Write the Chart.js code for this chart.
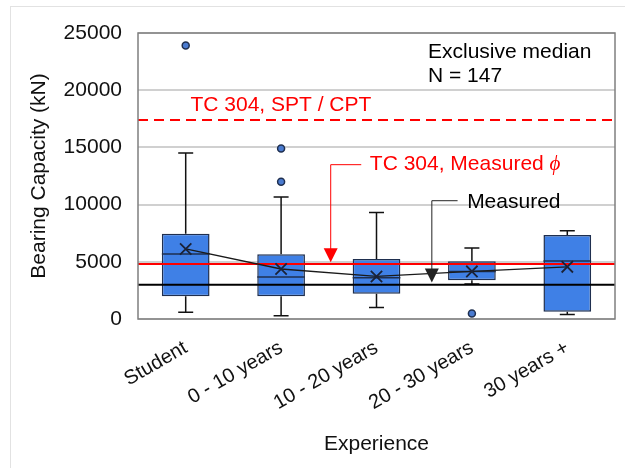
<!DOCTYPE html>
<html>
<head>
<meta charset="utf-8">
<script src="https://cdn.jsdelivr.net/npm/chart.js@4/dist/chart.umd.min.js"></script>
<style>
  html, body { margin: 0; padding: 0; background: #fff; }
  #wrap { position: relative; width: 625px; height: 468px; }
  #frame { position: absolute; left: 10px; top: 6px; right: 0; bottom: 0;
           border-left: 1px solid #e2e2e2; border-top: 1px solid #e2e2e2; }
  canvas { position: absolute; left: 0; top: 0; }
</style>
</head>
<body>
<div id="wrap">
  <div id="frame"></div>
  <canvas id="chart" width="625" height="468"></canvas>
</div>
<script>
// data (kN)
var categories = ["Student", "0 - 10 years", "10 - 20 years", "20 - 30 years", "30 years +"];
var whiskerLow  = [580, 290, 1000, 3050, 400];
var q1          = [1980, 1980, 2200, 3380, 640];
var median      = [5680, 3670, 3600, 4160, 5080];
var q3          = [7460, 5650, 5240, 5050, 7350];
var whiskerHigh = [14500, 10660, 9320, 6200, 7720];
var means       = [6120, 4370, 3720, 4160, 4560];
var outlierCat  = [0, 1, 1, 3];
var outlierVal  = [23900, 14900, 12000, 480];

// design values
var sptCpt = 17400;
var measuredPhi = 4800;
var measured = 3000;

var yTicks = [0, 5000, 10000, 15000, 20000, 25000];

var boxes = categories.map(function (c, i) { return [q1[i], q3[i]]; });
var outliers = outlierCat.map(function (c, i) { return { x: categories[c], y: outlierVal[i] }; });

var FONT = "'Liberation Sans', Arial, sans-serif";

// whiskers, medians, reference lines, notes
var boxPlugin = {
  id: 'boxExtras',
  beforeDatasetsDraw: function (chart) {
    var ctx = chart.ctx, x = chart.scales.x, y = chart.scales.y;
    ctx.save();
    ctx.strokeStyle = '#111';
    ctx.lineWidth = 1.5;
    categories.forEach(function (c, i) {
      var cx = x.getPixelForValue(i);
      ctx.beginPath();
      ctx.moveTo(cx, y.getPixelForValue(whiskerHigh[i]));
      ctx.lineTo(cx, y.getPixelForValue(q3[i]));
      ctx.moveTo(cx, y.getPixelForValue(whiskerLow[i]));
      ctx.lineTo(cx, y.getPixelForValue(q1[i]));
      ctx.moveTo(cx - 7.5, y.getPixelForValue(whiskerHigh[i]));
      ctx.lineTo(cx + 7.5, y.getPixelForValue(whiskerHigh[i]));
      ctx.moveTo(cx - 7.5, y.getPixelForValue(whiskerLow[i]));
      ctx.lineTo(cx + 7.5, y.getPixelForValue(whiskerLow[i]));
      ctx.stroke();
    });
    ctx.restore();
  },
  afterDatasetDraw: function (chart, args) {
    if (args.index !== 0) return;
    var ctx = chart.ctx, x = chart.scales.x, y = chart.scales.y, a = chart.chartArea;
    var meta = chart.getDatasetMeta(0);
    ctx.save();
    // medians
    ctx.strokeStyle = '#1f2f4f';
    ctx.lineWidth = 1.5;
    meta.data.forEach(function (bar, i) {
      var py = y.getPixelForValue(median[i]);
      ctx.beginPath();
      ctx.moveTo(bar.x - bar.width / 2, py);
      ctx.lineTo(bar.x + bar.width / 2, py);
      ctx.stroke();
    });
    // reference lines
    ctx.lineWidth = 2;
    ctx.strokeStyle = '#ff0000';
    ctx.setLineDash([10, 6]);
    ctx.beginPath();
    ctx.moveTo(a.left, y.getPixelForValue(sptCpt));
    ctx.lineTo(a.right, y.getPixelForValue(sptCpt));
    ctx.stroke();
    ctx.setLineDash([]);
    ctx.beginPath();
    ctx.moveTo(a.left, y.getPixelForValue(measuredPhi));
    ctx.lineTo(a.right, y.getPixelForValue(measuredPhi));
    ctx.stroke();
    ctx.strokeStyle = '#000';
    ctx.beginPath();
    ctx.moveTo(a.left, y.getPixelForValue(measured));
    ctx.lineTo(a.right, y.getPixelForValue(measured));
    ctx.stroke();
    ctx.restore();
  },
  afterDraw: function (chart) {
    var ctx = chart.ctx, x = chart.scales.x, y = chart.scales.y, a = chart.chartArea;
    ctx.save();
    // plot frame
    ctx.strokeStyle = '#7f7f7f';
    ctx.lineWidth = 1.5;
    ctx.strokeRect(a.left, a.top, a.right - a.left, a.bottom - a.top);

    function px(v) { return x.left + (v + 0.5) * (x.width / categories.length); }
    function leader(color, x0, x1, yTop, yTip) {
      var sx = px(x0), ex = px(x1), ty = y.getPixelForValue(yTop), tip = y.getPixelForValue(yTip);
      ctx.strokeStyle = color; ctx.fillStyle = color; ctx.lineWidth = 1;
      ctx.beginPath();
      ctx.moveTo(ex, ty); ctx.lineTo(sx, ty); ctx.lineTo(sx, tip - 12);
      ctx.stroke();
      ctx.beginPath();
      ctx.moveTo(sx - 7, tip - 14); ctx.lineTo(sx + 7, tip - 14); ctx.lineTo(sx, tip);
      ctx.closePath(); ctx.fill();
    }
    leader('#ff0000', 1.52, 1.84, 13490, 4950);
    leader('#222', 2.58, 2.85, 10340, 3200);

    ctx.textBaseline = 'middle';
    ctx.textAlign = 'left';
    ctx.font = '21px ' + FONT;
    ctx.fillStyle = '#ff0000';
    ctx.fillText('TC 304, SPT / CPT', px(0.05), y.getPixelForValue(18730));
    var t = 'TC 304, Measured ';
    var tx = px(1.93), ty = y.getPixelForValue(13490);
    ctx.fillText(t, tx, ty);
    var w = ctx.measureText(t).width;
    ctx.font = 'italic 21px "Liberation Serif", serif';
    ctx.fillText('\u03D5', tx + w, ty);
    ctx.font = '21px ' + FONT;
    ctx.fillStyle = '#000';
    ctx.fillText('Measured', px(2.95), y.getPixelForValue(10170));
    ctx.fillText('Exclusive median', px(2.54), y.getPixelForValue(23300));
    ctx.fillText('N = 147', px(2.54), y.getPixelForValue(21200));
    ctx.restore();
  }
};

new Chart(document.getElementById('chart').getContext('2d'), {
  type: 'bar',
  data: {
    labels: categories,
    datasets: [
      {
        type: 'bar',
        data: boxes,
        backgroundColor: '#3f80e6',
        borderColor: '#1f2f4f',
        borderWidth: 1.5,
        borderSkipped: false,
        barPercentage: 0.5,
        categoryPercentage: 1,
        order: 3
      },
      {
        type: 'line',
        data: outliers,
        showLine: false,
        pointRadius: 3.5,
        pointBackgroundColor: '#4a7bd0',
        pointBorderColor: '#1f2f4f',
        pointBorderWidth: 1.5,
        order: 2
      },
      {
        type: 'line',
        data: means,
        borderColor: '#1a1a1a',
        borderWidth: 1.3,
        pointStyle: 'crossRot',
        pointRadius: 8,
        pointBorderColor: '#1a2238',
        pointBorderWidth: 1.8,
        tension: 0,
        order: 1
      }
    ]
  },
  options: {
    responsive: false,
    animation: false,
    devicePixelRatio: 1,
    layout: { padding: { top: 33, right: 10, left: 0, bottom: 0 } },
    plugins: { legend: { display: false }, tooltip: { enabled: false } },
    scales: {
      x: {
        offset: true,
        grid: { display: false, drawTicks: false },
        border: { display: false },
        ticks: {
          autoSkip: false, maxRotation: 30, minRotation: 30, padding: 17,
          color: '#111', font: { family: FONT, size: 20 }
        },
        title: {
          display: true, text: 'Experience', color: '#111',
          font: { family: FONT, size: 21 }, padding: { top: 0, bottom: 11 }
        },
        afterFit: function (s) { s.height = 149; }
      },
      y: {
        min: 0, max: 25000,
        afterBuildTicks: function (s) { s.ticks = yTicks.map(function (v) { return { value: v }; }); },
        grid: { color: '#d0d0d0', lineWidth: 2, drawTicks: false },
        border: { display: false },
        ticks: {
          padding: 16, color: '#111', font: { family: FONT, size: 21 },
          callback: function (v) { return String(v); }
        },
        title: {
          display: true, text: 'Bearing Capacity (kN)', color: '#111',
          font: { family: FONT, size: 21 }, padding: { top: 27, bottom: 0 }
        },
        afterFit: function (s) { s.width = 138; }
      }
    }
  },
  plugins: [boxPlugin]
});
</script>
</body>
</html>
